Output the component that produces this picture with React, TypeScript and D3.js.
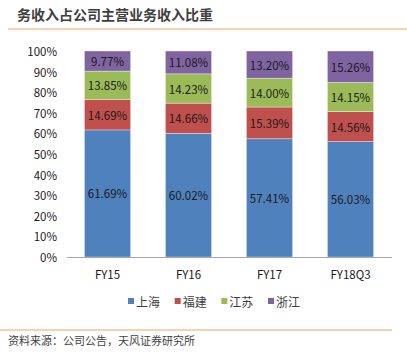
import { useEffect, useRef } from "react"
import * as d3 from "d3"

const categories = ["FY15", "FY16", "FY17", "FY18Q3"]
const seriesNames = ["上海", "福建", "江苏", "浙江"]
const shanghai = [61.69, 60.02, 57.41, 56.03]
const fujian = [14.69, 14.66, 15.39, 14.56]
const jiangsu = [13.85, 14.23, 14.0, 14.15]
const zhejiang = [9.77, 11.08, 13.2, 15.26]
const yTicks = [0, 10, 20, 30, 40, 50, 60, 70, 80, 90, 100]
const colors = ["#4F81BD", "#C0504D", "#9BBB59", "#8064A2"]

const font = "'Microsoft YaHei', 'Noto Sans CJK SC', sans-serif"

export default function App() {
  const svgRef = useRef<SVGSVGElement>(null)

  useEffect(() => {
    if (!svgRef.current) return
    const svg = d3.select(svgRef.current)
    svg.selectAll("*").remove()

    const W = 407
    const H = 353

    // * Title + rules
    svg
      .append("text")
      .attr("x", 17)
      .attr("y", 20)
      .attr("font-size", "14px")
      .attr("font-weight", "700")
      .attr("fill", "#3f3f3f")
      .attr("font-family", font)
      .text("务收入占公司主营业务收入比重")

    svg.append("line").attr("x1", 8).attr("x2", W).attr("y1", 29).attr("y2", 29)
      .attr("stroke", "#F8C49A").attr("stroke-width", 1.5)
    svg.append("line").attr("x1", 0).attr("x2", 392).attr("y1", 330).attr("y2", 330)
      .attr("stroke", "#F0A464").attr("stroke-width", 1)

    svg
      .append("text")
      .attr("x", 8)
      .attr("y", 345)
      .attr("font-size", "11px")
      .attr("fill", "#3f3f3f")
      .attr("font-family", font)
      .text("资料来源：公司公告，天风证券研究所")

    // * Scales
    const x = d3.scaleBand().domain(categories).range([67, 391]).paddingInner(0.43).paddingOuter(0.215)
    const y = d3.scaleLinear().domain([0, 100]).range([257, 51])

    const rows = categories.map((c, i) => ({
      cat: c,
      上海: shanghai[i],
      福建: fujian[i],
      江苏: jiangsu[i],
      浙江: zhejiang[i],
    }))
    const stacked = d3.stack<any>().keys(seriesNames)(rows)

    stacked.forEach((layer, si) => {
      layer.forEach((d) => {
        const cat = (d.data as any).cat
        const top = Math.min(d[1], 100)
        svg
          .append("rect")
          .attr("x", x(cat)!)
          .attr("y", y(top))
          .attr("width", x.bandwidth())
          .attr("height", y(d[0]) - y(top))
          .attr("fill", colors[si])
          .attr("stroke", "#ffffff")
          .attr("stroke-opacity", 0.5)
          .attr("stroke-width", 0.7)
        svg
          .append("text")
          .attr("x", x(cat)! + x.bandwidth() / 2)
          .attr("y", y((d[0] + top) / 2))
          .attr("text-anchor", "middle")
          .attr("dominant-baseline", "central")
          .attr("font-size", "11.5px")
          .attr("fill", "#1a1a1a")
          .attr("font-family", font)
          .text(`${(d[1] - d[0]).toFixed(2)}%`)
      })
    })

    // * Axes
    svg.append("line").attr("x1", 67).attr("x2", 392).attr("y1", 257.5).attr("y2", 257.5)
      .attr("stroke", "#a6a6a6").attr("stroke-width", 1)

    yTicks.forEach((t) => {
      svg
        .append("text")
        .attr("x", 57)
        .attr("y", y(t))
        .attr("text-anchor", "end")
        .attr("dominant-baseline", "central")
        .attr("font-size", "11.5px")
        .attr("fill", "#1a1a1a")
        .attr("font-family", font)
        .text(`${t}%`)
    })

    categories.forEach((c) => {
      svg
        .append("text")
        .attr("x", x(c)! + x.bandwidth() / 2)
        .attr("y", 274)
        .attr("text-anchor", "middle")
        .attr("dominant-baseline", "central")
        .attr("font-size", "11.5px")
        .attr("fill", "#1a1a1a")
        .attr("font-family", font)
        .text(c)
    })

    // * Legend
    const legendX = d3.scalePoint().domain(seriesNames).range([128, 268])
    seriesNames.forEach((s, i) => {
      const lx = legendX(s)!
      svg.append("rect").attr("x", lx).attr("y", 298).attr("width", 6).attr("height", 6).attr("fill", colors[i])
      svg
        .append("text")
        .attr("x", lx + 8)
        .attr("y", 301.5)
        .attr("dominant-baseline", "central")
        .attr("font-size", "12px")
        .attr("fill", "#404040")
        .attr("font-family", font)
        .text(s)
    })
  }, [])

  return (
    <svg
      ref={svgRef}
      width={407}
      height={353}
      style={{ position: "absolute", left: 0, top: 0, background: "#fff" }}
    ></svg>
  )
}
